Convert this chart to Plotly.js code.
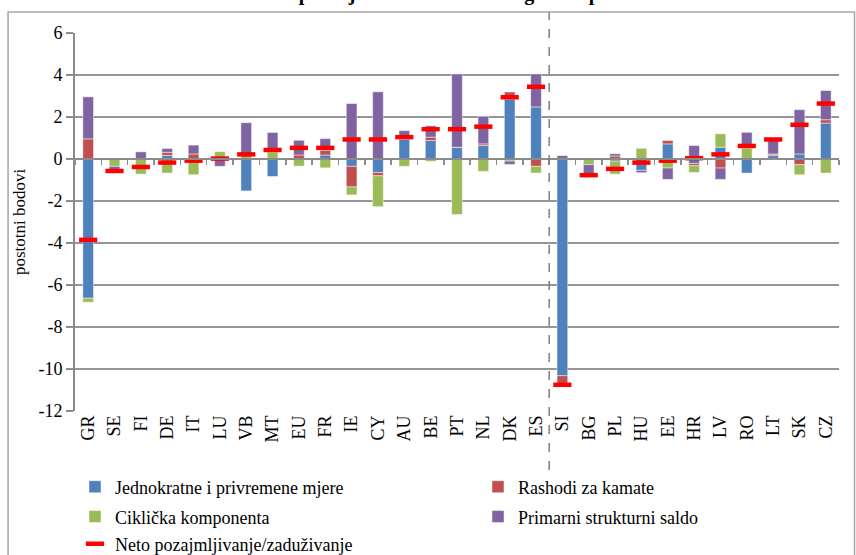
<!DOCTYPE html>
<html>
<head>
<meta charset="utf-8">
<script src="https://cdn.plot.ly/plotly-3.0.1.min.js"></script>
<style>html,body{margin:0;padding:0;background:#fff}#chart{width:856px;height:555px}</style>
</head>
<body>
<div id="chart"></div>
<script>
const categories = ["GR","SE","FI","DE","IT","LU","VB","MT","EU","FR","IE","CY","AU","BE","PT","NL","DK","ES","SI","BG","PL","HU","EE","HR","LV","RO","LT","SK","CZ"];

const jednokratne = [-6.63,0,0,0.17,0,0,-1.52,-0.83,0,0.19,-0.35,-0.64,0.93,0.88,0.56,0.64,2.85,2.48,-10.32,0,-0.10,-0.54,0.72,-0.22,0.56,-0.67,0.16,0.24,1.71];
const kamate      = [0.96,0,0,0.15,0.24,0,0,0,0.19,0.22,-0.98,-0.16,0,0.16,0,0.08,0.34,-0.35,-0.44,0,0.14,0,0.16,-0.10,-0.43,0,0.08,-0.27,0.16];
const ciklicka    = [-0.19,-0.35,-0.72,-0.67,-0.75,0.35,0.20,0.34,-0.34,-0.42,-0.38,-1.47,-0.35,-0.11,-2.64,-0.59,-0.10,-0.32,-0.08,-0.27,-0.62,0.51,-0.43,-0.32,0.64,0.50,0,-0.48,-0.67];
const primarni    = [2.00,-0.22,0.34,0.18,0.42,-0.35,1.53,0.92,0.70,0.56,2.64,3.20,0.42,0.54,3.49,1.31,-0.16,1.57,0.16,-0.52,0.11,-0.11,-0.54,0.64,-0.54,0.77,0.69,2.11,1.39];
const neto        = [-3.85,-0.57,-0.38,-0.17,-0.08,0.02,0.22,0.43,0.53,0.53,0.93,0.93,1.04,1.42,1.42,1.54,2.94,3.44,-10.75,-0.77,-0.47,-0.17,-0.08,0.04,0.22,0.62,0.93,1.63,2.64];

const yTickVals = [-12,-10,-8,-6,-4,-2,0,2,4,6];
const yTickText = ["-12","-10","-8","-6","-4","-2","0","2","4","6"];

const serif = "'Liberation Serif', 'Times New Roman', serif";
const barLine = {color:'rgba(255,255,255,0.45)', width:1};

const traces = [
  {type:'bar', name:'Jednokratne i privremene mjere', x:categories, y:jednokratne, marker:{color:'#4F81BD', line:barLine}, legend:'legend'},
  {type:'bar', name:'Rashodi za kamate', x:categories, y:kamate, marker:{color:'#C0504D', line:barLine}, legend:'legend2'},
  {type:'bar', name:'Ciklička komponenta', x:categories, y:ciklicka, marker:{color:'#9BBB59', line:barLine}, legend:'legend3'},
  {type:'bar', name:'Primarni strukturni saldo', x:categories, y:primarni, marker:{color:'#8064A2', line:barLine}, legend:'legend4'},
  {type:'scatter', mode:'markers', name:'Neto pozajmljivanje/zaduživanje', x:categories, y:neto, xaxis:'x2',
   marker:{symbol:'line-ew', size:13, color:'#FF0000', line:{width:4.5, color:'#FF0000'}}, legend:'legend5'}
];

const legendBase = {orientation:'h', xanchor:'left', yanchor:'middle', font:{family:serif, size:18, color:'#000'},
  bgcolor:'rgba(0,0,0,0)', itemclick:false};
const colL = 0.0, colR = 0.5275;
const row1 = -0.201, row2 = -0.280, row3 = -0.352;

const layout = {
  width:856, height:555,
  margin:{l:75, r:17, t:33, b:144, autoexpand:false},
  paper_bgcolor:'#fff', plot_bgcolor:'#fff',
  barmode:'relative', bargap:0.595,
  font:{family:serif, size:18, color:'#000'},
  title:{text:'Dekompozicija ciklički usklađenog salda proračuna', font:{family:serif, size:20, color:'#000', weight:'bold'},
         xref:'container', x:0.535, xanchor:'center', yref:'container', y:1.0, yanchor:'bottom'},
  xaxis:{type:'category', range:[-0.5,28.5], showgrid:false, showline:false, ticks:'', tickangle:-90,
         tickfont:{family:serif, size:18, color:'#000'}, fixedrange:true, automargin:false},
  xaxis2:{type:'category', overlaying:'x', anchor:'free', position:12/18, side:'bottom', range:[-0.5,28.5],
          showgrid:false, showline:true, linecolor:'#8c8c8c', linewidth:2, ticks:'outside', ticklen:5,
          tickwidth:1.5, tickcolor:'#8c8c8c', tickson:'boundaries', showticklabels:false, fixedrange:true},
  yaxis:{range:[-12,6], tickvals:yTickVals, ticktext:yTickText, showgrid:true, gridcolor:'#959595', gridwidth:2,
         zeroline:false, showline:true, linecolor:'#8c8c8c', linewidth:2, ticks:'outside', ticklen:7,
         tickwidth:2, tickcolor:'#8c8c8c', tickfont:{family:serif, size:18, color:'#000'}, automargin:false,
         title:{text:'postotni bodovi', font:{family:serif, size:17, color:'#000'}, standoff:8}, fixedrange:true},
  legend:  Object.assign({}, legendBase, {x:colL, y:row1}),
  legend2: Object.assign({}, legendBase, {x:colR, y:row1}),
  legend3: Object.assign({}, legendBase, {x:colL, y:row2}),
  legend4: Object.assign({}, legendBase, {x:colR, y:row2}),
  legend5: Object.assign({}, legendBase, {x:colL, y:row3}),
  shapes:[
    {type:'line', xref:'x', yref:'paper', x0:17.5, x1:17.5, y0:-0.156, y1:1.056, line:{color:'#7f7f7f', width:1.5, dash:'dash'}},
    {type:'rect', xref:'paper', yref:'paper', x0:-0.0876, x1:1.0203, y0:-0.40, y1:1.0556, line:{color:'#a6a6a6', width:1.5}, fillcolor:'rgba(0,0,0,0)'}
  ],
  showlegend:true
};

Plotly.newPlot('chart', traces, layout, {displayModeBar:false, staticPlot:true});
</script>
</body>
</html>
